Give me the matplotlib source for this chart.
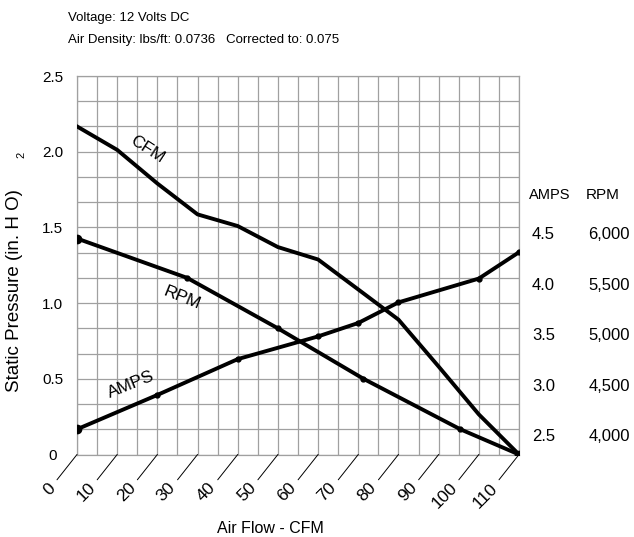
import numpy as np
import matplotlib
matplotlib.use('Agg')
import matplotlib.pyplot as plt
import matplotlib.transforms as mtransforms

plt.rcParams['font.family'] = ['Liberation Sans', 'DejaVu Sans']

# fan curve data
cfm_flow = [0, 10, 20, 30, 40, 50, 60, 70, 80, 90, 100, 110]
cfm_pressure = [2.167, 2.012, 1.79, 1.586, 1.509, 1.37, 1.288, 1.09, 0.891, 0.581, 0.265, 0.0]

rpm_flow = [0, 27.4, 50, 71.3, 95.4, 110]
rpm_values = [5890, 5500, 5000, 4500, 4000, 3750]

amps_flow = [0, 20, 40, 60, 70, 80, 100, 110]
amps_values = [2.50, 2.84, 3.195, 3.42, 3.553, 3.757, 3.993, 4.254]

x_ticks = list(range(0, 111, 10))
p_ticks = [0, 0.5, 1.0, 1.5, 2.0, 2.5]
p_labels = ['0', '0.5', '1.0', '1.5', '2.0', '2.5']
amps_ticks = [2.5, 3.0, 3.5, 4.0, 4.5]
rpm_ticks = [4000, 4500, 5000, 5500, 6000]

fig = plt.figure(figsize=(6.34, 5.37), dpi=100)
ax = fig.add_axes([77 / 634, 1 - 454.5 / 537, 442 / 634, 378.5 / 537])

ax.set_xlim(0, 110)
ax.set_ylim(0, 2.5)
ax.set_xticks(x_ticks)
ax.set_xticks(np.arange(0, 111, 5), minor=True)
ax.set_yticks(p_ticks)
ax.set_yticks(np.linspace(0, 2.5, 16), minor=True)
ax.set_yticklabels(p_labels, ha='center', fontsize=11)
ax.set_xticklabels([])
ax.tick_params(which='both', length=0)
ax.tick_params(axis='y', pad=17.5)
ax.grid(which='both', color='#a0a0a0', lw=0.9)
for sp in ax.spines.values():
    sp.set_color('#a0a0a0')
    sp.set_linewidth(0.9)

ax.plot(cfm_flow, cfm_pressure, color='black', lw=2.8, solid_joinstyle='round', zorder=5)

ax_amps = ax.twinx()
ax_amps.set_ylim(2.25, 6.0)
ax_amps.axis('off')
ax_amps.plot(amps_flow, amps_values, color='black', lw=2.8, marker='o', ms=3.5,
             solid_joinstyle='round')
ax_amps.plot(amps_flow[0], amps_values[0], 'ko', ms=6)

ax_rpm = ax.twinx()
ax_rpm.set_ylim(3750, 7500)
ax_rpm.axis('off')
ax_rpm.plot(rpm_flow, rpm_values, color='black', lw=2.8, marker='o', ms=3.5,
            solid_joinstyle='round')
ax_rpm.plot([rpm_flow[0], rpm_flow[-1]], [rpm_values[0], rpm_values[-1]], 'ko', ms=6, ls='none')

# diagonal x ticks and rotated labels
for x in x_ticks:
    ax.annotate('', xy=(x, 0), xytext=(-14.4, -18.2), textcoords='offset points',
                arrowprops=dict(arrowstyle='-', color='black', lw=0.7, shrinkA=0, shrinkB=0),
                annotation_clip=False)
    ax.annotate(str(x), xy=(x, 0), xytext=(-17.5, -22.4), textcoords='offset points',
                rotation=45, ha='right', va='center', rotation_mode='anchor',
                fontsize=12.5, annotation_clip=False)

# right hand scales
amps_tr = mtransforms.offset_copy(
    mtransforms.blended_transform_factory(ax.transAxes, ax_amps.transData),
    fig=fig, y=-12, units='dots')
for v in amps_ticks:
    ax.text(1.0294, v, f'{v:.1f}', transform=amps_tr, ha='left', va='baseline', fontsize=12)
rpm_tr = mtransforms.offset_copy(
    mtransforms.blended_transform_factory(ax.transAxes, ax_rpm.transData),
    fig=fig, y=-12, units='dots')
for v in rpm_ticks:
    ax.text(1.2511, v, f'{v:,}', transform=rpm_tr, ha='right', va='baseline', fontsize=12)
ax.text(1.0226, 0.674, 'AMPS', transform=ax.transAxes, ha='left', va='baseline',
        fontsize=10.5)
ax.text(1.1516, 0.674, 'RPM', transform=ax.transAxes, ha='left', va='baseline',
        fontsize=11)

# curve labels
ax.text(17.4, 2.012, 'CFM', rotation=-33, ha='center', va='center', fontsize=12.5,
        rotation_mode='anchor', zorder=6)
ax.text(26.1, 1.034, 'RPM', rotation=-22, ha='center', va='center', fontsize=12.5,
        rotation_mode='anchor', zorder=6)
ax.text(13.5, 0.46, 'AMPS', rotation=22, ha='center', va='center', fontsize=12.5,
        rotation_mode='anchor', zorder=6)

# header and axis titles
fig.text(68 / 634, 1 - 20.7 / 537, 'Voltage: 12 Volts DC', ha='left', va='baseline',
         fontsize=9.5)
fig.text(68 / 634, 1 - 43.3 / 537, 'Air Density: lbs/ft: 0.0736   Corrected to: 0.075',
         ha='left', va='baseline', fontsize=9.5)
fig.text(14.5 / 634, 1 - 291 / 537, 'Static Pressure (in. H O)', rotation=90,
         ha='center', va='center', fontsize=13.5)
fig.text(21.7 / 634, 1 - 155 / 537, '2', rotation=90, ha='center', va='center', fontsize=8)
fig.text(270 / 634, 1 - 532.7 / 537, 'Air Flow - CFM', ha='center', va='baseline',
         fontsize=11.5)

fig.savefig('out.png', dpi=100)
